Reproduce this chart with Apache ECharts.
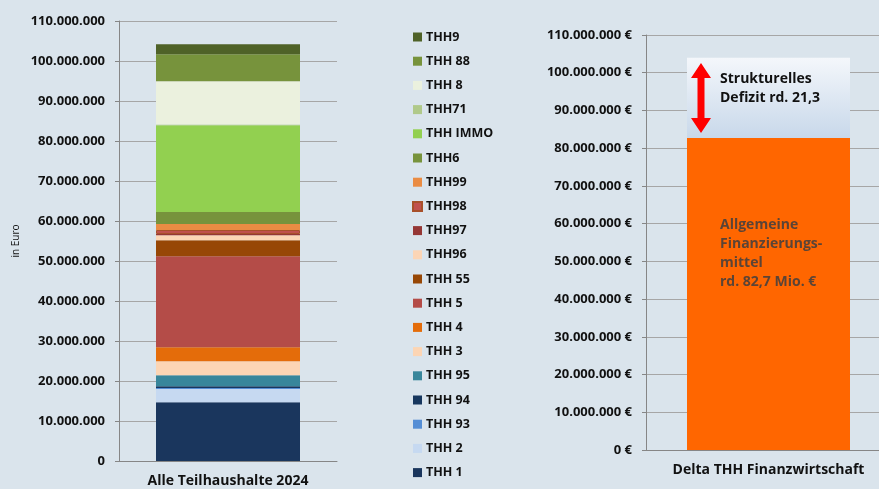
<!DOCTYPE html>
<html>
<head>
<meta charset="utf-8">
<script src="https://cdn.jsdelivr.net/npm/echarts@6/dist/echarts.min.js"></script>
<style>
  html, body { margin: 0; padding: 0; background: #dae4ec; }
  #chart { width: 879px; height: 489px; }
</style>
</head>
<body>
<div id="chart"></div>
<script>
// Teilhaushalte (Stapelreihenfolge von unten nach oben)
const thhNames = ['THH 1', 'THH 2', 'THH 93', 'THH 94', 'THH 95', 'THH 3', 'THH 4', 'THH 5', 'THH 55',
  'THH96', 'THH97', 'THH98', 'THH99', 'THH6', 'THH IMMO', 'THH71', 'THH 8', 'THH 88', 'THH9']
const thhValues = [14700000, 3300000, 250000, 450000, 2750000, 3500000, 3500000, 22750000, 4000000,
  1250000, 300000, 1000000, 1500000, 3000000, 21700000, 200000, 10800000, 6750000, 2500000]
const thhColors = ['#1a365d', '#c6d9f1', '#558ed5', '#17375e', '#38869b', '#fcd5b4', '#e46c0a', '#b44c48', '#974706',
  '#fcd5b5', '#953735', '#c0504d', '#ea8c43', '#77933c', '#92d050', '#b0c98a', '#ebf1de', '#77933c', '#4f6228']
const leftCategory = ['Alle Teilhaushalte 2024']
// rechter Balken
const rightCategory = ['Delta THH Finanzwirtschaft']
const finanzmittel = [82700000]
const defizit = [21300000]

const font = 'Open Sans'
const chart = echarts.init(document.getElementById('chart'))

const fmt = (v) => String(v).replace(/\B(?=(\d{3})+(?!\d))/g, '.')

const axisLabelStyle = {
  fontFamily: font,
  fontWeight: 'bold',
  fontSize: 13,
  color: '#111'
}
const catLabelStyle = { ...axisLabelStyle, fontSize: 14, margin: 13 }

const leftSeries = thhNames.map((name, i) => ({
  name: name,
  type: 'bar',
  stack: 'thh',
  xAxisIndex: 0,
  yAxisIndex: 0,
  barWidth: 144,
  data: [thhValues[i]],
  itemStyle: name === 'THH98'
    ? { color: thhColors[i], borderColor: '#a8502a', borderWidth: 1 }
    : { color: thhColors[i] }
}))

const option = {
  backgroundColor: '#dae4ec',
  animation: false,
  legend: {
    orient: 'vertical',
    left: 407,
    top: 25,
    itemWidth: 9,
    itemHeight: 9,
    itemGap: 10.2,
    icon: 'rect',
    data: thhNames.slice().reverse(),
    textStyle: { fontFamily: font, fontWeight: 'bold', fontSize: 12.5, color: '#111', lineHeight: 14, padding: [0, 0, 0, -1] }
  },
  grid: [
    { left: 119, top: 21, width: 218, bottom: 28, outerBoundsMode: 'none' },
    { left: 646, top: 35, right: -12, bottom: 39, outerBoundsMode: 'none' }
  ],
  xAxis: [
    {
      gridIndex: 0,
      type: 'category',
      data: leftCategory,
      axisLine: { lineStyle: { color: '#868686' } },
      axisTick: { show: false },
      axisLabel: catLabelStyle
    },
    {
      gridIndex: 1,
      type: 'category',
      data: rightCategory,
      axisLine: { lineStyle: { color: '#868686' } },
      axisTick: { show: false },
      axisLabel: catLabelStyle
    }
  ],
  yAxis: [
    {
      gridIndex: 0,
      type: 'value',
      min: 0,
      max: 110000000,
      interval: 10000000,
      name: 'in Euro',
      nameLocation: 'middle',
      nameGap: 98,
      nameTextStyle: { fontFamily: font, fontSize: 10, color: '#111' },
      axisLine: { show: true, lineStyle: { color: '#868686' } },
      axisTick: { show: true, length: 4, lineStyle: { color: '#868686' } },
      splitLine: { lineStyle: { color: '#a6a6a6' } },
      axisLabel: { ...axisLabelStyle, margin: 14, formatter: (v) => fmt(v) }
    },
    {
      gridIndex: 1,
      type: 'value',
      min: 0,
      max: 110000000,
      interval: 10000000,
      axisLine: { show: true, lineStyle: { color: '#868686' } },
      axisTick: { show: true, length: 4, lineStyle: { color: '#868686' } },
      splitLine: { lineStyle: { color: '#a6a6a6' } },
      axisLabel: { ...axisLabelStyle, margin: 14, formatter: (v) => fmt(v) + ' €' }
    }
  ],
  series: [
    ...leftSeries,
    {
      name: 'Allgemeine Finanzierungsmittel',
      type: 'bar',
      stack: 'delta',
      xAxisIndex: 1,
      yAxisIndex: 1,
      barWidth: 163,
      data: finanzmittel,
      itemStyle: { color: '#ff6600' },
      label: {
        show: true,
        position: [33, 78],
        formatter: 'Allgemeine\nFinanzierungs-\nmittel\nrd. 82,7 Mio. €',
        fontFamily: font,
        fontWeight: 'bold',
        fontSize: 14,
        lineHeight: 19,
        color: '#5b4436'
      }
    },
    {
      name: 'Strukturelles Defizit',
      type: 'bar',
      stack: 'delta',
      xAxisIndex: 1,
      yAxisIndex: 1,
      barWidth: 163,
      data: defizit,
      itemStyle: {
        color: new echarts.graphic.LinearGradient(0, 0, 0, 1, [
          { offset: 0, color: '#f4f7fb' },
          { offset: 1, color: '#c8d8ea' }
        ])
      },
      label: {
        show: true,
        position: [33, 12],
        formatter: 'Strukturelles\nDefizit rd. 21,3',
        fontFamily: font,
        fontWeight: 'bold',
        fontSize: 14,
        lineHeight: 19,
        color: '#111'
      }
    }
  ]
}
chart.setOption(option)

// roter Doppelpfeil im Defizit-Bereich
const drawArrow = () => {
  const center = chart.convertToPixel({ xAxisIndex: 1 }, rightCategory[0])
  const x = center - 163 / 2 + 14
  const yTop = chart.convertToPixel({ yAxisIndex: 1 }, 102600000)
  const yBot = chart.convertToPixel({ yAxisIndex: 1 }, 84000000)
  const hw = 10, sw = 3.5, hh = 15
  chart.setOption({
    graphic: [{
      type: 'polygon',
      z: 100,
      shape: {
        points: [
          [x, yTop], [x + hw, yTop + hh], [x + sw, yTop + hh], [x + sw, yBot - hh], [x + hw, yBot - hh],
          [x, yBot], [x - hw, yBot - hh], [x - sw, yBot - hh], [x - sw, yTop + hh], [x - hw, yTop + hh]
        ]
      },
      style: { fill: '#ff0000' }
    }]
  })
}
drawArrow()
</script>
</body>
</html>
